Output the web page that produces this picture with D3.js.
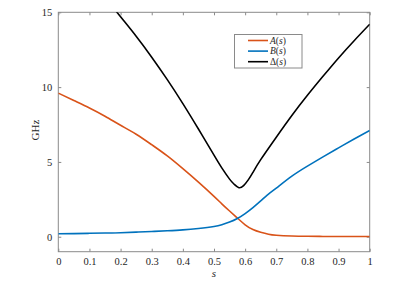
<!DOCTYPE html>
<html lang="en">
<head>
    <meta charset="UTF-8">
    <title>Schedule and gap</title>
    <script src="https://d3js.org/d3.v7.min.js"></script>
    <style>
        body { margin: 0; background: #fff; }
        svg { display: block; }
        svg text { font-family: "Liberation Serif", "Times New Roman", serif !important; fill: #262626; }
    </style>
</head>
<body>
    <svg width="415" height="300"></svg>
    <script>
        // values
        const sAB = [0, 0.05, 0.1, 0.15, 0.2, 0.25, 0.3, 0.35, 0.4, 0.45, 0.5,
                     0.525, 0.55, 0.575, 0.6, 0.625, 0.65, 0.675, 0.7,
                     0.75, 0.8, 0.85, 0.9, 0.95, 1];
        const valsA = [9.6, 9.1, 8.6, 8.05, 7.45, 6.85, 6.15, 5.4, 4.55, 3.65, 2.7,
                       2.2, 1.72, 1.25, 0.8, 0.48, 0.3, 0.17, 0.1,
                       0.05, 0.03, 0.02, 0.02, 0.02, 0.02];
        const valsB = [0.2, 0.21, 0.23, 0.25, 0.27, 0.31, 0.35, 0.4, 0.46, 0.55, 0.68,
                       0.8, 0.98, 1.22, 1.55, 1.95, 2.4, 2.85, 3.25,
                       4.05, 4.72, 5.34, 5.94, 6.53, 7.1];
        const sDelta = [0, 0.05, 0.1, 0.15, 0.2, 0.25, 0.3, 0.35, 0.4, 0.45, 0.5,
                        0.525, 0.55, 0.565, 0.58, 0.595, 0.61, 0.625, 0.65,
                        0.7, 0.75, 0.8, 0.85, 0.9, 0.95, 1];
        const valsDelta = [19.2, 18.2, 17.2, 16.0, 14.7, 13.4, 12.0, 10.5, 8.9, 7.2, 5.45,
                           4.6, 3.85, 3.5, 3.28, 3.42, 3.8, 4.3, 5.15,
                           6.65, 8.1, 9.45, 10.72, 11.95, 13.1, 14.2];
        const xTicks = [0, 0.1, 0.2, 0.3, 0.4, 0.5, 0.6, 0.7, 0.8, 0.9, 1];
        const yTicks = [0, 5, 10, 15];
        const seriesNames = ["A", "B", "\u0394"];
        const colors = ["#D95319", "#0072BD", "#000000"];

        const svg = d3.select("svg");
        const plotL = 58.3, plotR = 369.7, plotT = 12.3, plotB = 251.7;
        const x = d3.scaleLinear().domain([0, 1]).range([plotL, plotR]);
        const y = d3.scaleLinear().domain([-1, 15]).range([plotB, plotT]);
        const axisColor = "#8a8a8a";
        const serif = "'Liberation Serif', 'Times New Roman', serif";

        svg.append("defs").append("clipPath").attr("id", "plot")
            .append("rect").attr("x", plotL).attr("y", plotT)
            .attr("width", plotR - plotL).attr("height", plotB - plotT);

        // axes with inward ticks
        const tickLen = 3;
        const gx = svg.append("g").attr("transform", `translate(0,${plotB})`)
            .call(d3.axisBottom(x).tickValues(xTicks).tickSizeInner(-tickLen).tickSizeOuter(0)
                .tickPadding(6).tickFormat(d3.format("")));
        const gxTop = svg.append("g").attr("transform", `translate(0,${plotT})`)
            .call(d3.axisTop(x).tickValues(xTicks).tickSizeInner(-tickLen).tickSizeOuter(0).tickFormat(""));
        const gy = svg.append("g").attr("transform", `translate(${plotL},0)`)
            .call(d3.axisLeft(y).tickValues(yTicks).tickSizeInner(-tickLen).tickSizeOuter(0).tickPadding(6));
        const gyRight = svg.append("g").attr("transform", `translate(${plotR},0)`)
            .call(d3.axisRight(y).tickValues(yTicks).tickSizeInner(-tickLen).tickSizeOuter(0).tickFormat(""));

        [gx, gxTop, gy, gyRight].forEach(g => {
            g.attr("font-family", serif);
            g.select(".domain").remove();
            g.selectAll("line").attr("stroke", axisColor);
            g.selectAll("text").attr("font-size", 10.5).style("font-family", serif).attr("fill", "#333");
        });

        svg.append("rect")
            .attr("x", plotL).attr("y", plotT)
            .attr("width", plotR - plotL).attr("height", plotB - plotT)
            .attr("fill", "none").attr("stroke", axisColor).attr("stroke-width", 1);

        // curves
        const line = d3.line().x(d => x(d[0])).y(d => y(d[1])).curve(d3.curveNatural);
        const curves = [
            d3.zip(sAB, valsA),
            d3.zip(sAB, valsB),
            d3.zip(sDelta, valsDelta)
        ];
        svg.append("g").attr("clip-path", "url(#plot)")
            .selectAll("path")
            .data(curves)
            .join("path")
            .attr("d", line)
            .attr("fill", "none")
            .attr("stroke", (d, i) => colors[i])
            .attr("stroke-width", 1.6);

        // axis labels
        svg.append("text")
            .attr("x", (plotL + plotR) / 2).attr("y", 277)
            .attr("text-anchor", "middle").attr("font-size", 11).attr("font-style", "italic")
            .style("font-family", serif)
            .text("s");
        svg.append("text")
            .attr("transform", `translate(39,130) rotate(-90)`)
            .attr("text-anchor", "middle").attr("font-size", 11)
            .style("font-family", serif)
            .text("GHz");

        // legend
        const lg = svg.append("g");
        lg.append("rect")
            .attr("x", 234.5).attr("y", 34.5).attr("width", 67.5).attr("height", 33.5)
            .attr("fill", "#fff").attr("stroke", axisColor);
        seriesNames.forEach((name, i) => {
            const ly = 40.5 + i * 10.6;
            lg.append("line")
                .attr("x1", 248).attr("x2", 268).attr("y1", ly).attr("y2", ly)
                .attr("stroke", colors[i]).attr("stroke-width", 1.6);
            const t = lg.append("text").attr("x", 270).attr("y", ly + 3.3).attr("font-size", 9.5)
                .style("font-family", serif);
            t.append("tspan").attr("font-style", i < 2 ? "italic" : "normal").text(name);
            t.append("tspan").text("(");
            t.append("tspan").attr("font-style", "italic").text("s");
            t.append("tspan").text(")");
        });
    </script>
</body>
</html>
